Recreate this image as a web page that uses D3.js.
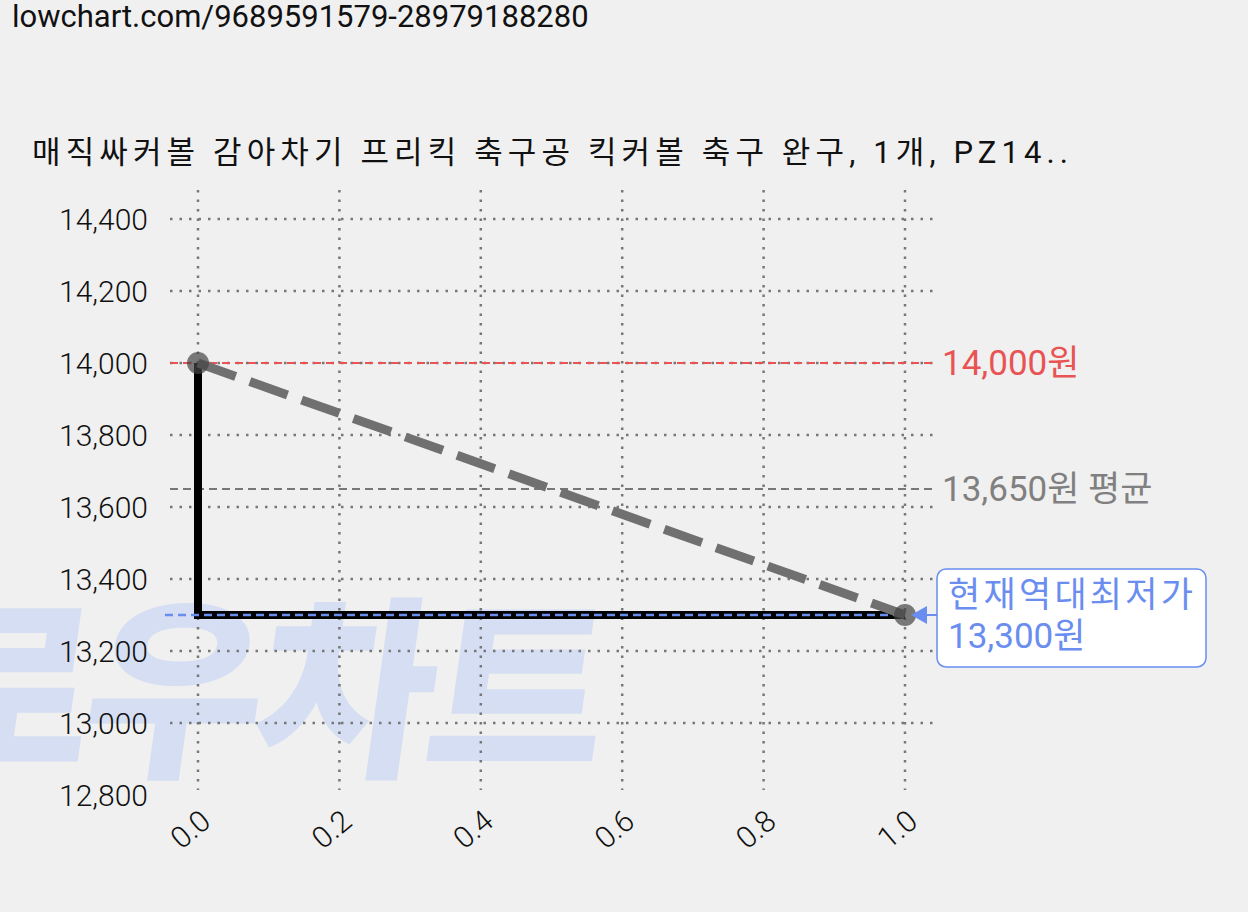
<!DOCTYPE html><html><head><meta charset="utf-8"><script src="https://cdn.jsdelivr.net/npm/d3@7"></script>
<style>body{margin:0;background:#f0f0f0}text{font-family:Roboto,"Noto Sans CJK KR",sans-serif}</style></head><body>
<svg id="c" width="1248" height="912"></svg>
<script>
const xs=[0,1];
const prices=[14000,13300];
const yTicks=[12800,13000,13200,13400,13600,13800,14000,14200,14400];
const xTicks=[0,0.2,0.4,0.6,0.8,1.0];
const maxP=14000,avgP=13650,minP=13300;
const title="매직싸커볼 감아차기 프리킥 축구공 킥커볼 축구 완구, 1개, PZ14..";
const svg=d3.select("#c");
const K="Roboto,'Noto Sans CJK KR',sans-serif";
const x=d3.scaleLinear().domain([0,1]).range([198,905]);
const y=d3.scaleLinear().domain([12800,14400]).range([795,219]);
// watermark
svg.append("text").attr("transform","translate(-95,762) skewX(-8)").attr("font-size",195).attr("font-weight",900)
 .attr("fill","#d5def2").attr("letter-spacing",-8).text("로우차트");
svg.append("text").attr("x",12).attr("y",27).attr("font-size",31).attr("fill","#111").text("lowchart.com/9689591579-28979188280");
svg.append("text").attr("x",32).attr("y",163).attr("font-size",31).attr("fill","#111").attr("textLength",1036).text(title);
// grid
yTicks.slice(1).forEach(t=>svg.append("line").attr("x1",170).attr("x2",935).attr("y1",y(t)).attr("y2",y(t)).attr("stroke","#777").attr("stroke-width",2.5).attr("stroke-dasharray","2.5,7"));
xTicks.forEach(t=>svg.append("line").attr("x1",x(t)).attr("x2",x(t)).attr("y1",190).attr("y2",790).attr("stroke","#777").attr("stroke-width",2.5).attr("stroke-dasharray","2.5,7"));
const ya=svg.append("g").attr("transform","translate(170,0)").call(d3.axisLeft(y).tickValues(yTicks).tickFormat(d3.format(",")).tickSize(0).tickPadding(22));
ya.select(".domain").remove();
ya.selectAll("text").attr("font-size",30).attr("font-weight",300).attr("fill","#111").attr("font-family",K).attr("dy","0.35em");
const xa=svg.append("g").attr("transform","translate(0,800)").call(d3.axisBottom(x).tickValues(xTicks).tickFormat(d3.format(".1f")).tickSize(0));
xa.select(".domain").remove();
xa.selectAll("text").attr("font-size",30).attr("font-weight",300).attr("fill","#111").attr("font-family",K).attr("text-anchor","end").attr("dy",0).attr("transform","translate(12,22) rotate(-40)");
// ref lines
svg.append("line").attr("x1",170).attr("x2",935).attr("y1",y(maxP)).attr("y2",y(maxP)).attr("stroke","#e85454").attr("stroke-width",2).attr("stroke-dasharray","8,5");
svg.append("text").attr("x",942).attr("y",y(maxP)+12).attr("font-size",35).attr("fill","#e85454").text(d3.format(",")(maxP)+"원");
svg.append("line").attr("x1",170).attr("x2",935).attr("y1",y(avgP)).attr("y2",y(avgP)).attr("stroke","#777").attr("stroke-width",2).attr("stroke-dasharray","8,5");
svg.append("text").attr("x",942).attr("y",y(avgP)+12).attr("font-size",35).attr("fill","#808080").text(d3.format(",")(avgP)+"원 평균");
// step line
svg.append("path").attr("d",`M${x(0)},${y(prices[0])}V${y(prices[1])}H${x(1)}`).attr("fill","none").attr("stroke","#000").attr("stroke-width",8);
svg.append("line").attr("x1",165).attr("x2",905).attr("y1",y(minP)).attr("y2",y(minP)).attr("stroke","#6a8df0").attr("stroke-width",2.5).attr("stroke-dasharray","8,5");
// dashed trend
svg.append("path").attr("d",d3.line().x((d,i)=>x(xs[i])).y(d=>y(d))(prices)).attr("stroke","#707070").attr("stroke-width",9).attr("stroke-dasharray","40,15").attr("fill","none");
svg.selectAll("circle.p").data(prices).enter().append("circle").attr("cx",(d,i)=>x(xs[i])).attr("cy",d=>y(d)).attr("r",11).attr("fill","#444").attr("fill-opacity",0.7);
// annotation
svg.append("path").attr("d",`M${x(1)+6},${y(minP)}l16,-9v18z`).attr("fill","#6a8df0");
svg.append("line").attr("x1",x(1)+15).attr("x2",937).attr("y1",y(minP)).attr("y2",y(minP)).attr("stroke","#6a8df0").attr("stroke-width",2);
svg.append("rect").attr("x",937).attr("y",569).attr("width",269).attr("height",98).attr("rx",9).attr("fill","#fff").attr("stroke","#6a8df0").attr("stroke-width",1.5);
svg.append("text").attr("x",948).attr("y",607).attr("font-size",35).attr("fill","#6a8df0").attr("textLength",245).text("현재역대최저가");
svg.append("text").attr("x",948).attr("y",648).attr("font-size",35).attr("fill","#6a8df0").text(d3.format(",")(minP)+"원");
</script></body></html>
